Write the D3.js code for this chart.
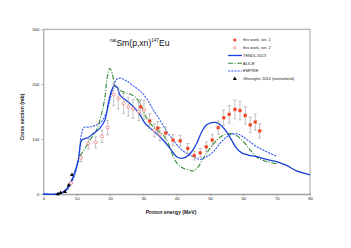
<!DOCTYPE html>
<html>
<head>
<meta charset="utf-8">
<script src="https://cdn.jsdelivr.net/npm/d3@7"></script>
<style>
  body { margin: 0; background: #fff; }
  svg { display: block; font-family: "Liberation Sans", Arial, sans-serif; }
</style>
</head>
<body>
<svg id="chart"></svg>
<script>
// this work, series 1 (filled)
const ser1E = [29.2, 31.9, 34.3, 36.7, 38.9, 41.1, 43.3, 45.3, 47.1, 48.9, 50.7, 52.5, 54.1, 55.8, 57.5, 59.0, 60.6, 62.1, 63.6, 64.9];
const ser1Y = [159, 133, 120, 111, 98, 97, 83, 70, 75, 86, 98, 121, 139, 145, 154, 152, 143, 126, 131, 115];
const ser1Err = [13, 13, 12, 11, 10, 10, 9, 8, 8, 9, 10, 12, 14, 16, 17, 17, 16, 14, 15, 13];

// this work, series 2 (open)
const ser2E = [8.3, 11.3, 13.5, 15.7, 17.6, 19.3, 21.1, 22.5, 24.1, 25.5, 26.9, 28.6, 30.2, 33.3, 35.0];
const ser2Y = [20, 66, 92, 94, 105, 121, 181, 174, 165, 159, 155, 150, 153, 116, 109];
const ser2Err = [3, 7, 10, 10, 11, 13, 20, 19, 18, 17, 17, 16, 17, 12, 12];

// earlier data (normalized)
const prevE = [4.4, 5.2, 6.5, 7.6, 8.6];
const prevY = [0, 2, 4, 16, 35];

// model curves
const tendlE = [0, 4, 6, 7.5, 9, 10.5, 11.5, 12.5, 13.5, 15, 17, 18.5, 19.5, 20.5, 21.3, 22.2, 23, 24.5, 26, 27.5, 29, 30.5, 32, 34, 36, 38, 40, 41.5, 43, 44.5, 46, 47.5, 49, 50.5, 52, 53.5, 55, 56.5, 58, 59.5, 61.5, 64, 67, 70, 73, 76, 80];
const tendlY = [0, 0, 4, 13, 32, 62, 98, 101, 103, 110, 120, 135, 165, 189, 197, 194, 180, 172, 165, 156, 144, 129, 120, 110, 98, 83, 68, 65, 68, 77, 92, 113, 126, 130, 130, 124, 113, 98, 83, 75, 71, 68, 63, 59, 52, 42, 35];

const aliceE = [7, 9, 11, 12.5, 14, 16, 17.5, 18.5, 19.2, 20, 20.8, 21.5, 23, 24.5, 26, 27.5, 29, 30.5, 32, 34, 36, 37.5, 39, 40.5, 42, 43.5, 45, 46.5, 48, 50, 52, 54, 55.5, 57, 58.5, 60.5, 62.5, 64.5, 67, 70];
const aliceY = [7, 32, 68, 83, 98, 117, 147, 177, 214, 229, 217, 198, 189, 185, 182, 177, 165, 144, 129, 117, 107, 92, 68, 53, 47, 44, 42, 50, 65, 83, 98, 107, 110, 109, 104, 92, 77, 65, 59, 55];

const empireE = [0, 4.5, 7, 9, 10.5, 11.4, 12.2, 14, 16, 17.5, 19, 20.2, 21, 22, 23, 25, 27, 29, 31, 33, 35, 37, 39, 41, 43, 45, 47, 49, 51, 53, 55, 57, 58.5, 60, 62, 64, 66, 68, 70];
const empireY = [0, 0, 7, 28, 60, 108, 121, 122, 126, 132, 150, 177, 195, 209, 211, 206, 197, 188, 174, 153, 135, 114, 98, 83, 74, 68, 63, 68, 77, 92, 104, 110, 109, 104, 95, 86, 80, 74, 69];

const xTicks = [0, 10, 20, 30, 40, 50, 60, 70, 80];
const yTicks = [0, 100, 200, 300];

const legendLabels = ["this work, ser. 1", "this work, ser. 2", "TENDL 2013", "ALICE", "EMPIRE", "Gheorghe 2014 (normalized)"];

const width = 351, height = 248;
const margin = { top: 29.3, right: 41, bottom: 54, left: 43.3 };
const visWidth = width - margin.left - margin.right;
const visHeight = height - margin.top - margin.bottom;

const svg = d3.select("#chart").attr("width", width).attr("height", height);

const x = d3.scaleLinear().domain([0, 80]).range([0, visWidth]);
const y = d3.scaleLinear().domain([0, 300]).range([visHeight, 0]);

const g = svg.append("g").attr("transform", `translate(${margin.left}, ${margin.top})`);

// frame (top and right)
g.append("path")
  .attr("d", `M0,0H${visWidth}V${visHeight}`)
  .attr("fill", "none")
  .attr("stroke", "#8c8c8c")
  .attr("stroke-width", 0.8);

// axes
const xAxis = d3.axisBottom(x).tickValues(xTicks).tickSize(2).tickSizeOuter(0);
const yAxis = d3.axisLeft(y).tickValues(yTicks).tickSize(2).tickSizeOuter(0);

g.append("g")
  .attr("transform", `translate(0, ${visHeight})`)
  .call(xAxis)
  .call((a) => a.select(".domain").attr("stroke", "#a0a0a0").attr("stroke-width", 1.6))
  .call((a) => a.selectAll(".tick line").attr("stroke", "#777").attr("stroke-width", 0.6))
  .call((a) => a.selectAll("text").attr("font-size", 4.2).attr("fill", "#222").attr("dy", "0.9em").attr("y", 2));

g.append("g")
  .call(yAxis)
  .call((a) => a.select(".domain").attr("stroke", "#777").attr("stroke-width", 0.8))
  .call((a) => a.selectAll(".tick line").attr("stroke", "#777").attr("stroke-width", 0.6))
  .call((a) => a.selectAll("text").attr("font-size", 4.2).attr("fill", "#222").attr("x", -4));

// axis titles
svg.append("text")
  .attr("x", 171).attr("y", 213.5)
  .attr("text-anchor", "middle")
  .attr("font-size", 5.2).attr("font-weight", "bold").attr("fill", "#222")
  .text("Proton energy (MeV)");

svg.append("text")
  .attr("transform", "translate(23.5, 117) rotate(-90)")
  .attr("text-anchor", "middle")
  .attr("font-size", 5.2).attr("font-weight", "bold").attr("fill", "#222")
  .text("Cross section (mb)");

// chart title
const title = svg.append("text")
  .attr("x", 110).attr("y", 45.5)
  .attr("font-size", 8.6).attr("fill", "#111");
title.append("tspan").attr("font-size", 4.6).attr("dy", -3.3).text("nat");
title.append("tspan").attr("dy", 3.3).text("Sm(p,xn)");
title.append("tspan").attr("font-size", 4.6).attr("dy", -3.3).text("147");
title.append("tspan").attr("dy", 3.3).text("Eu");

// curves
const line = d3.line()
  .x((d) => x(d[0]))
  .y((d) => y(d[1]))
  .curve(d3.curveCatmullRom.alpha(0.5));

const curves = [
  { e: aliceE, v: aliceY, color: "#2e8b2e", width: 1.1, dash: "5,1.6,1,1.6" },
  { e: empireE, v: empireY, color: "#3a5ff0", width: 1.1, dash: "2.2,1" },
  { e: tendlE, v: tendlY, color: "#1740d8", width: 1.3, dash: null }
];

curves.forEach((c) => {
  g.append("path")
    .datum(c.e.map((e, i) => [e, c.v[i]]))
    .attr("d", line)
    .attr("fill", "none")
    .attr("stroke", c.color)
    .attr("stroke-width", c.width)
    .attr("stroke-dasharray", c.dash);
});

// error bars
function errorBars(es, vs, errs) {
  const grp = g.append("g").attr("stroke", "#9a9a9a").attr("stroke-width", 0.6);
  es.forEach((e, i) => {
    const cx = x(e), y0 = y(vs[i] - errs[i]), y1 = y(vs[i] + errs[i]);
    grp.append("line").attr("x1", cx).attr("x2", cx).attr("y1", y0).attr("y2", y1);
    grp.append("line").attr("x1", cx - 1.5).attr("x2", cx + 1.5).attr("y1", y0).attr("y2", y0);
    grp.append("line").attr("x1", cx - 1.5).attr("x2", cx + 1.5).attr("y1", y1).attr("y2", y1);
  });
}
errorBars(ser2E, ser2Y, ser2Err);
errorBars(ser1E, ser1Y, ser1Err);

// series 2 open circles
g.append("g")
  .selectAll("ellipse")
  .data(ser2E.map((e, i) => [e, ser2Y[i]]))
  .join("ellipse")
  .attr("cx", (d) => x(d[0]))
  .attr("cy", (d) => y(d[1]))
  .attr("rx", 1.7).attr("ry", 1.3)
  .attr("fill", "#fff")
  .attr("stroke", "#f07070")
  .attr("stroke-width", 0.7);

// series 1 filled squares
g.append("g")
  .selectAll("rect")
  .data(ser1E.map((e, i) => [e, ser1Y[i]]))
  .join("rect")
  .attr("x", (d) => x(d[0]) - 1.5)
  .attr("y", (d) => y(d[1]) - 1.5)
  .attr("width", 3).attr("height", 3)
  .attr("fill", "#f03a1e")
  .attr("stroke", "#ff8a70")
  .attr("stroke-width", 0.4);

// earlier data triangles
const tri = d3.symbol().type(d3.symbolTriangle).size(7);
g.append("g")
  .selectAll("path")
  .data(prevE.map((e, i) => [e, prevY[i]]))
  .join("path")
  .attr("transform", (d) => `translate(${x(d[0])}, ${y(d[1])})`)
  .attr("d", tri)
  .attr("fill", "#000");

// legend
const legend = svg.append("g").attr("transform", "translate(228, 40)");
const rowH = 7.75;
legendLabels.forEach((label, i) => {
  const ly = i * rowH;
  const row = legend.append("g").attr("transform", `translate(0, ${ly})`);
  if (i === 0) {
    row.append("rect").attr("x", 5.5).attr("y", -1.3).attr("width", 2.6).attr("height", 2.6).attr("fill", "#f03a1e");
  } else if (i === 1) {
    row.append("ellipse").attr("cx", 6.8).attr("cy", 0).attr("rx", 1.4).attr("ry", 1.1)
      .attr("fill", "#fff").attr("stroke", "#f07070").attr("stroke-width", 0.7);
  } else if (i === 5) {
    row.append("path").attr("transform", "translate(6.8, 0)").attr("d", tri).attr("fill", "#000");
  } else {
    const c = curves[[2, 0, 1][i - 2]];
    row.append("line").attr("x1", 0).attr("x2", 14).attr("y1", 0).attr("y2", 0)
      .attr("stroke", c.color).attr("stroke-width", c.width).attr("stroke-dasharray", c.dash);
  }
  row.append("text")
    .attr("x", 15).attr("y", 1.4)
    .attr("font-size", 4).attr("fill", "#222")
    .text(label);
});
</script>
</body>
</html>
